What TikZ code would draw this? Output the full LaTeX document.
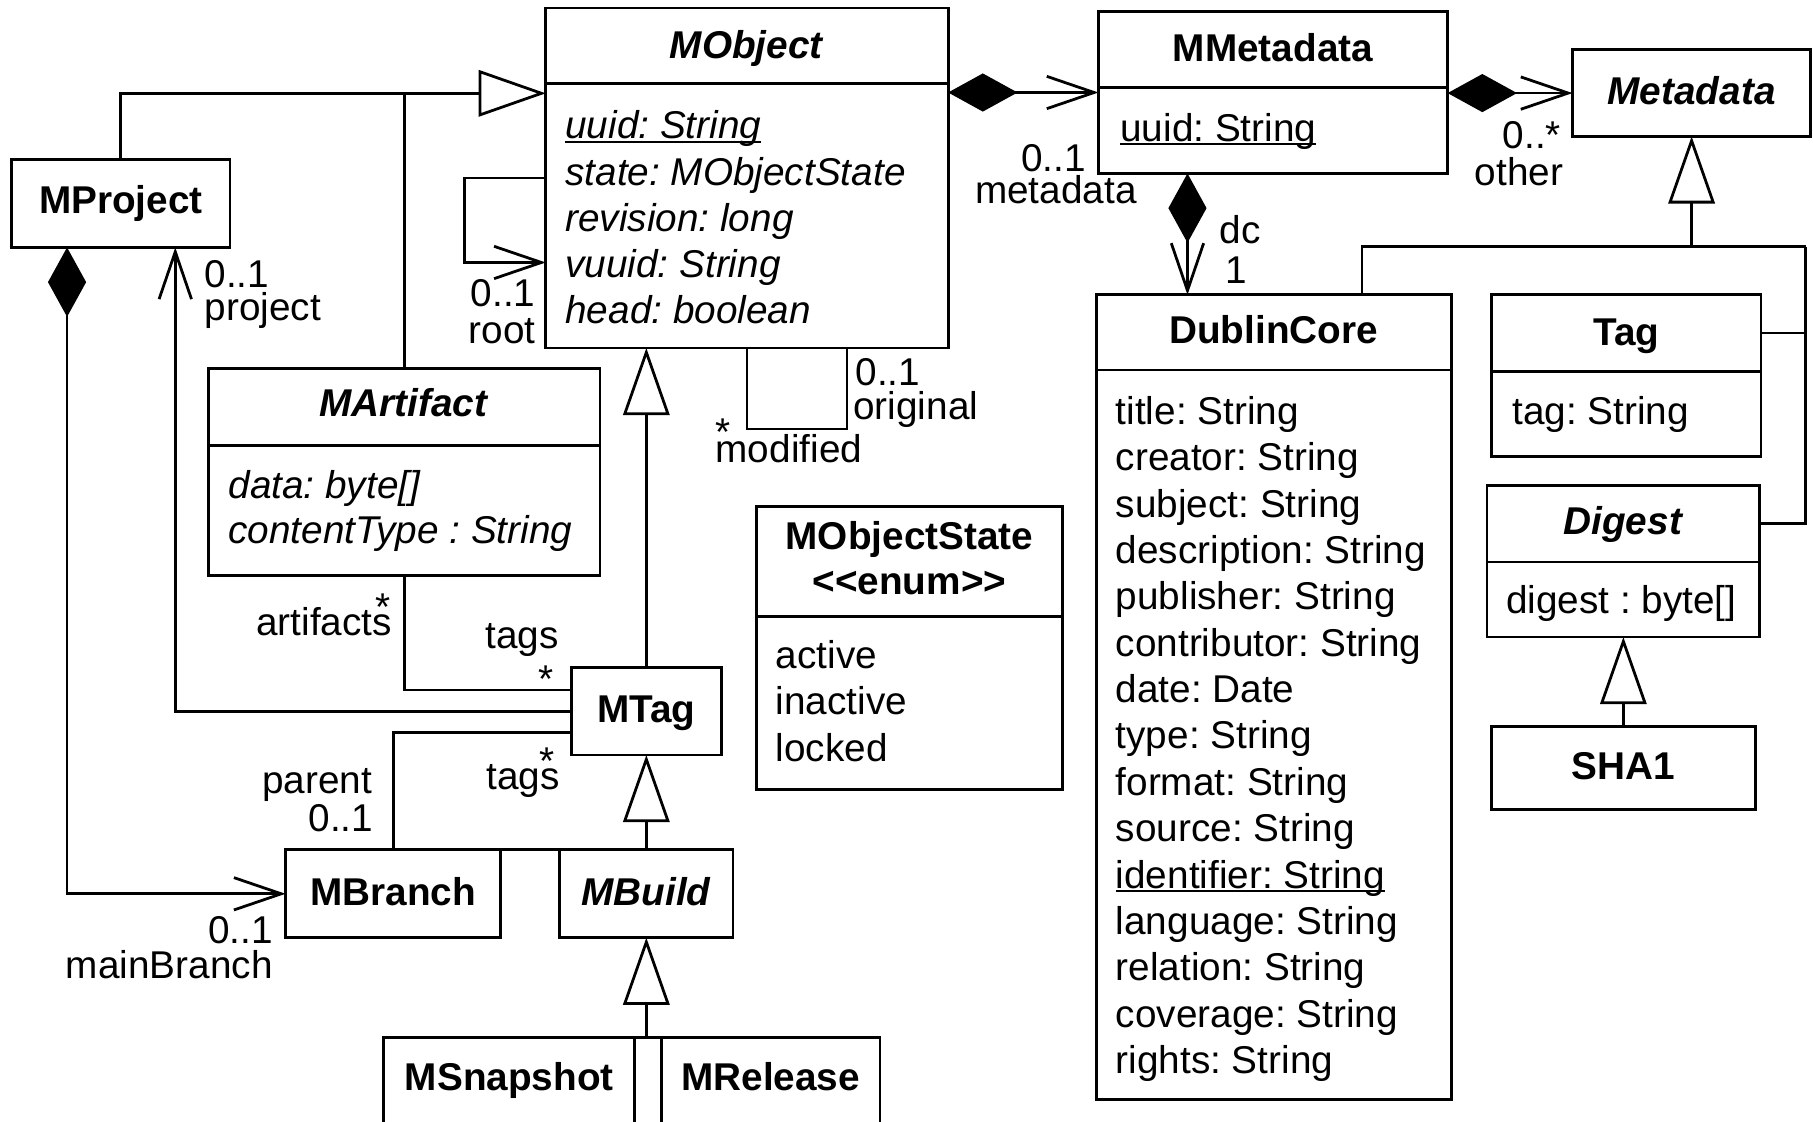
\documentclass[tikz,border=0pt]{standalone}
\usepackage{fontspec}
\setmainfont{Liberation Sans}
\usetikzlibrary{arrows.meta,calc}
\newcommand\dfont{\fontsize{33.5}{40}\selectfont\frenchspacing}
% underlined attribute (static member), rule close under the baseline
\newcommand\ulattr[1]{\setbox0\hbox{#1}\rlap{\rule[-3.5pt]{\wd0}{1.7pt}}\box0}
\begin{document}
\begin{tikzpicture}[x=1pt,y=-1pt,font=\dfont,line width=2.4pt,
  box/.style={draw,rectangle,inner sep=0pt,outer sep=0pt,anchor=north west},
  lbl/.style={inner sep=0pt,outer sep=0pt},
  gen/.style={-{Triangle[open,length=58pt,width=40pt]},line join=miter},
  nav/.style={-{Straight Barb[length=41pt,width=28pt]}},
  comp/.style={{Diamond[length=60pt,width=33pt]}-{Straight Barb[length=41pt,width=28pt]}}]
\clip (0,0) rectangle (1568,970);
\fill[white] (0,0) rectangle (1568,970);

% ---------- class boxes ----------
\node[box,minimum width=348pt,minimum height=294pt] (mobj)   at (472,7)   {};
\node[box,minimum width=302pt,minimum height=140pt] (mmeta)  at (950,10)  {};
\node[box,minimum width=206pt,minimum height=75pt]  (meta)   at (1360,43) {};
\node[box,minimum width=189pt,minimum height=76pt]  (mproj)  at (10,138)  {};
\node[box,minimum width=339pt,minimum height=179pt] (mart)   at (180,319) {};
\node[box,minimum width=265pt,minimum height=245pt] (mstate) at (654,438) {};
\node[box,minimum width=130pt,minimum height=75.5pt] (mtag)  at (494,577.5) {};
\node[box,minimum width=186pt,minimum height=76pt]  (mbranch) at (247,735) {};
\node[box,minimum width=150pt,minimum height=76pt]  (mbuild) at (484,735) {};
\node[box,minimum width=217pt,minimum height=110pt] (msnap)  at (332,897) {};
\node[box,minimum width=189pt,minimum height=110pt] (mrel)   at (572,897) {};
\node[box,minimum width=307pt,minimum height=696pt] (dc)     at (948,255) {};
\node[box,minimum width=233pt,minimum height=140pt] (tag)    at (1290,255) {};
\node[box,minimum width=236pt,minimum height=131pt] (digest) at (1286,420) {};
\node[box,minimum width=228pt,minimum height=72pt]  (sha1)   at (1290,628) {};

% compartment separators
\draw (mobj.north west)   ++(0,65.5) -- +(348,0);
\draw (mmeta.north west)  ++(0,66)   -- +(302,0);
\draw (mart.north west)   ++(0,66.5) -- +(339,0);
\draw (mstate.north west) ++(0,95)   -- +(265,0);
\draw (dc.north west)     ++(0,65)   -- +(307,0);
\draw (tag.north west)    ++(0,66)   -- +(233,0);
\draw (digest.north west) ++(0,66)   -- +(236,0);

% ---------- class names ----------
\node[lbl,anchor=base] (mobj-n)    at (646,50.5)   {\textbf{\textit{MObject}}};
\node[lbl,anchor=base] (mmeta-n)   at (1101,53)    {\textbf{MMetadata}};
\node[lbl,anchor=base] (meta-n)    at (1463,90)    {\textbf{\textit{Metadata}}};
\node[lbl,anchor=base] (mproj-n)   at (104.5,184.5) {\textbf{MProject}};
\node[lbl,anchor=base] (mart-n)    at (349.5,360)  {\textbf{\textit{MArtifact}}};
\node[lbl,anchor=base] (mtag-n)    at (559,625)    {\textbf{MTag}};
\node[lbl,anchor=base] (mstate-n)  at (786.5,475)  {\textbf{MObjectState}};
\node[lbl,anchor=base] (mstate-s)  at (786.5,514)  {\textbf{<{}<enum>{}>}};
\node[lbl,anchor=base] (dc-n)      at (1101.5,297) {\textbf{DublinCore}};
\node[lbl,anchor=base] (tag-n)     at (1406.5,299) {\textbf{Tag}};
\node[lbl,anchor=base] (digest-n)  at (1404,462)   {\textbf{\textit{Digest}}};
\node[lbl,anchor=base] (sha1-n)    at (1404,674)   {\textbf{SHA1}};
\node[lbl,anchor=base] (mbranch-n) at (340,783.5)  {\textbf{MBranch}};
\node[lbl,anchor=base] (mbuild-n)  at (559,783.5)  {\textbf{\textit{MBuild}}};
\node[lbl,anchor=base] (msnap-n)   at (440.5,943.5) {\textbf{MSnapshot}};
\node[lbl,anchor=base] (mrel-n)    at (666.5,943.5) {\textbf{MRelease}};

% ---------- attributes ----------
\foreach \i/\t in {0/{\ulattr{uuid: String}},1/{state: MObjectState},2/{revision: long},3/{vuuid: String},4/{head: boolean}}
  \node[lbl,anchor=base west] (mobj-a\i) at (489,120+40*\i) {\textit{\t}};
\node[lbl,anchor=base west] (mmeta-a0) at (969,122) {\ulattr{uuid: String}};
\node[lbl,anchor=base west] (mart-a0) at (197.6,431) {\textit{data: byte[]}};
\node[lbl,anchor=base west] (mart-a1) at (197.6,470) {\textit{contentType : String}};
\foreach \i/\t in {0/active,1/inactive,2/locked}
  \node[lbl,anchor=base west] (mstate-a\i) at (671,578+40.3*\i) {\t};
\foreach \t [count=\i from 0] in {title: String, creator: String, subject: String, description: String, publisher: String, contributor: String, date: Date, type: String, format: String, source: String, {\ulattr{identifier: String}}, language: String, relation: String, coverage: String, rights: String}
  \node[lbl,anchor=base west] (dc-a\i) at (965,367+40.1*\i) {\t};
\node[lbl,anchor=base west] (tag-a0) at (1308,367) {tag: String};
\node[lbl,anchor=base west] (digest-a0) at (1302.6,531) {digest : byte[]};

% ---------- generalisations ----------
\coordinate (gtop) at ($(mobj.north west)+(0,73.7)$);
\draw[gen] (mproj.north) |- (gtop);
\draw (mart.north) -- (mart.north |- gtop);
\draw[gen] (mtag.north) -- (mtag.north |- mobj.south);
\draw[gen] (mbuild.north) -- (mtag.south);
\draw (mbranch.north east) -- (mbuild.north west);
\draw[gen] (mbuild.south |- msnap.north) -- (mbuild.south);
\draw (msnap.north east) -- (mrel.north west);

\coordinate (mj) at ($(meta.south)+(0,95.5)$);
\coordinate (mr) at ($(mj)+(98.7,0)$);
\coordinate (tagc) at ($(tag.north east)+(0,33)$);
\coordinate (digc) at ($(digest.north east)+(0,33)$);
\draw[gen] (mj) -- (meta.south);
\draw ($(dc.north west)+(230,0)$) |- (mr);
\draw (tagc) -- (tagc -| mr);
\draw (digc) -| (mr);
\draw[gen] (sha1.north) -- (sha1.north |- digest.south);

% ---------- associations ----------
\draw[nav] ($(mobj.north west)+(0,147)$) -- ++(-70.5,0) -- ++(0,73) -- ($(mobj.north west)+(0,220)$);
\draw (mobj.south) -- ++(0,70) -| ($(mobj.south)+(86.6,0)$);
\draw[comp] (mobj.east |- mmeta.west) -- (mmeta.west);
\draw[comp] (mmeta.east |- meta.west) -- (meta.west);
\draw[comp] ($(mmeta.south west)+(77,0)$) -- ($(dc.north west)+(79,0)$);
\draw[comp] ($(mproj.south west)+(48,0)$) |- (mbranch.west);
\draw[nav] (mtag.west) -| ($(mproj.south west)+(141.6,0)$);
\draw (mart.south) |- ($(mtag.north west)+(0,19.3)$);
\draw (mbranch.north) |- ($(mtag.north west)+(0,56.2)$);

% ---------- role names and multiplicities ----------
\node[lbl,anchor=base east] (l-root1) at (463,265) {0..1};
\node[lbl,anchor=base east] (l-root2) at (463,297) {root};
\node[lbl,anchor=base west] (l-proj1) at (177,248.5) {0..1};
\node[lbl,anchor=base west] (l-proj2) at (177,277.5) {project};
\node[lbl,anchor=base east] (l-md1) at (939,148.5) {0..1};
\node[lbl,anchor=base east] (l-md2) at (983,176) {metadata};
\node[lbl,anchor=base east] (l-oth1) at (1350,128) {0..*};
\node[lbl,anchor=base east] (l-oth2) at (1352,160) {other};
\node[lbl,anchor=base west] (l-dc1) at (1055,210.5) {dc};
\node[lbl,anchor=base west] (l-dc2) at (1059.6,245) {1};
\node[lbl,anchor=base west] (l-orig1) at (740,333) {0..1};
\node[lbl,anchor=base west] (l-orig2) at (738,363) {original};
\node[lbl,anchor=base west] (l-mod1) at (619,385.5) {*};
\node[lbl,anchor=base west] (l-mod2) at (619,400) {modified};
\node[lbl,anchor=base] (l-art1) at (331,536.5) {*};
\node[lbl,anchor=base east] (l-art2) at (339,550) {artifacts};
\node[lbl,anchor=base east] (l-tags1) at (483,561) {tags};
\node[lbl,anchor=base] (l-tags2) at (472.6,598.7) {*};
\node[lbl,anchor=base] (l-tags3) at (472.8,670) {*};
\node[lbl,anchor=base east] (l-tags4) at (484,683) {tags};
\node[lbl,anchor=base east] (l-par1) at (321.7,686) {parent};
\node[lbl,anchor=base east] (l-par2) at (322.7,719) {0..1};
\node[lbl,anchor=base east] (l-mb1) at (235.8,815.8) {0..1};
\node[lbl,anchor=base east] (l-mb2) at (235.8,846) {mainBranch};
\end{tikzpicture}
\end{document}
